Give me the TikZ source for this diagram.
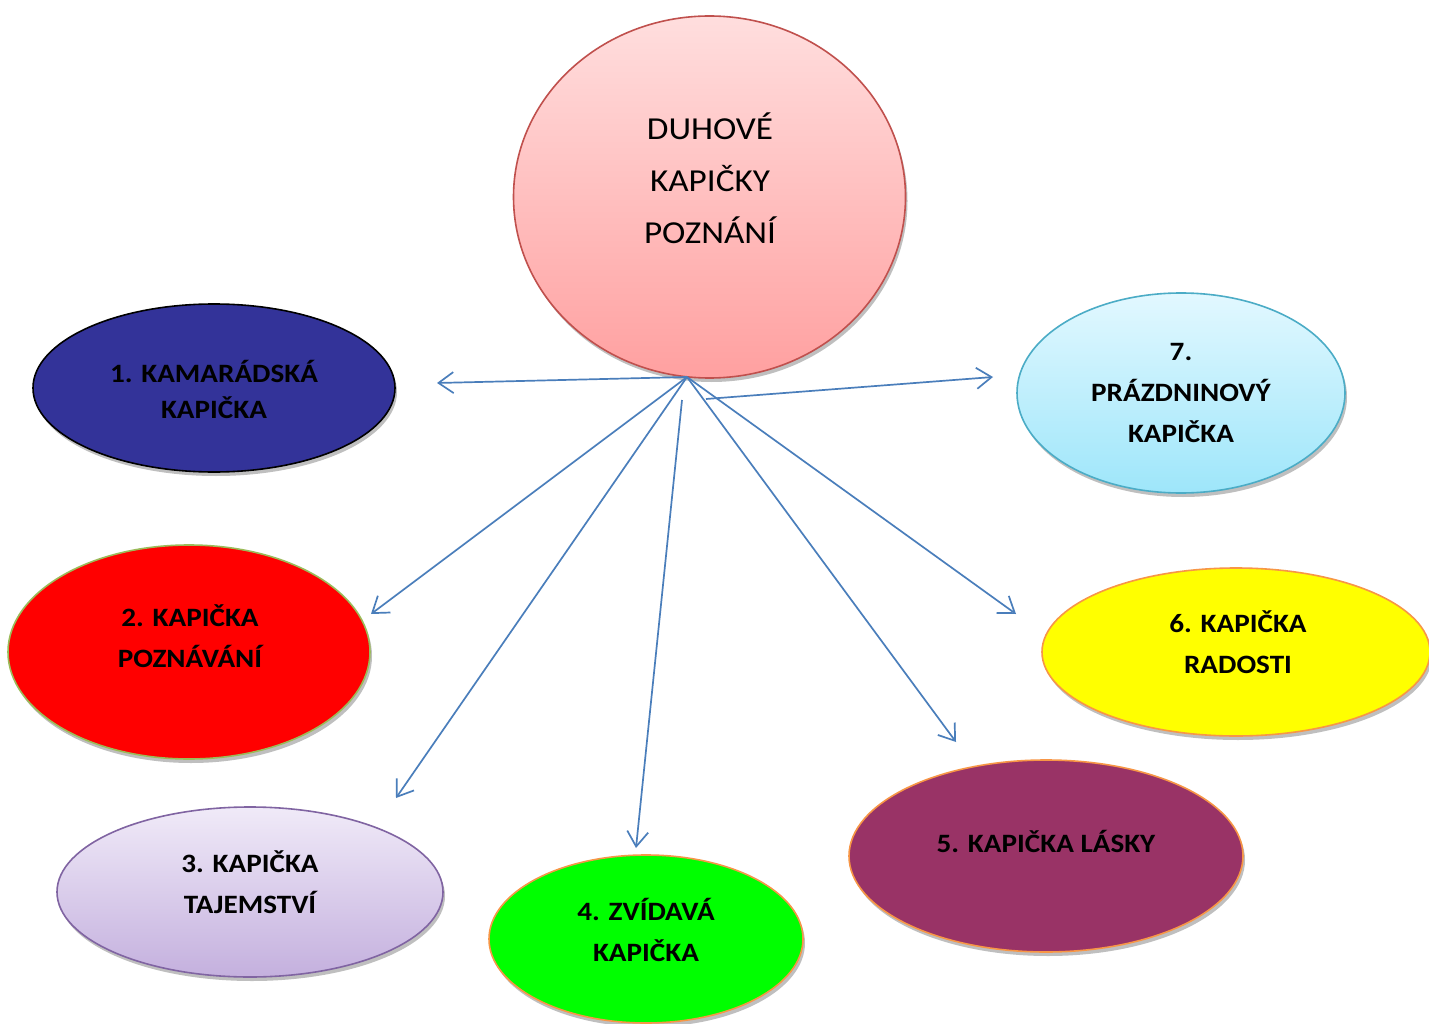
\documentclass[tikz,border=0pt]{standalone}
\usepackage{fontspec}
\setmainfont{Carlito}[FakeStretch=1.1]
\usetikzlibrary{shapes.geometric,shadows,arrows.meta}
\definecolor{arrowblue}{HTML}{4A7EBB}
\definecolor{ctop}{HTML}{FFDEDE}
\definecolor{cbot}{HTML}{FFA0A0}
\definecolor{cline}{HTML}{C0504D}
\definecolor{navy}{HTML}{333399}
\definecolor{olive}{HTML}{9BBB59}
\definecolor{lavtop}{HTML}{F0EAF8}
\definecolor{lavbot}{HTML}{C4B0DE}
\definecolor{lavline}{HTML}{8064A2}
\definecolor{orangeline}{HTML}{F79646}
\definecolor{plum}{HTML}{993366}
\definecolor{cyantop}{HTML}{E2F8FF}
\definecolor{cyanbot}{HTML}{9EE6FA}
\definecolor{cyanline}{HTML}{4BACC6}
\definecolor{pureyellow}{RGB}{255,255,0}
\definecolor{puregreen}{RGB}{0,255,0}
\begin{document}
\begin{tikzpicture}[x=1pt,y=-1pt,
  bub/.style={ellipse, draw, line width=1.6pt, inner sep=0pt,
    drop shadow={shadow xshift=2pt, shadow yshift=-4pt, fill=black!50}},
  lbl/.style={font=\bfseries\fontsize{26.5}{41}\selectfont, align=center, inner sep=0pt},
  arr/.style={draw=arrowblue, line width=1.7pt,
    -{Straight Barb[length=15pt,width=21pt,line width=1.7pt]}}]
\useasboundingbox (0,0) rectangle (1429,1024);
\fill[white] (0,0) rectangle (1429,1024);

% ellipses
\node[bub, draw=cline, top color=ctop, bottom color=cbot,
  minimum width=392pt, minimum height=362pt] (c) at (709.5,197) {};
\node[bub, draw=black, fill=navy, minimum width=362pt, minimum height=168pt] (n1) at (214,388) {};
\node[bub, draw=olive, fill=red, minimum width=362pt, minimum height=214pt] (n2) at (189,652) {};
\node[bub, draw=lavline, top color=lavtop, bottom color=lavbot,
  minimum width=386pt, minimum height=170pt] (n3) at (250,892) {};
\node[bub, draw=orangeline, fill=puregreen, minimum width=314pt, minimum height=168pt] (n4) at (646,939) {};
\node[bub, draw=orangeline, fill=plum, minimum width=394pt, minimum height=192pt] (n5) at (1046,856) {};
\node[bub, draw=orangeline, fill=pureyellow, minimum width=388pt, minimum height=168pt] (n6) at (1236,652) {};
\node[bub, draw=cyanline, top color=cyantop, bottom color=cyanbot,
  minimum width=328pt, minimum height=200pt] (n7) at (1181,393) {};

% labels
\node[align=center, inner sep=0pt, font=\fontsize{32}{52}\selectfont] (tc) at (710,178) {DUHOVÉ\\KAPIČKY\\POZNÁNÍ};
\node[lbl, font=\bfseries\fontsize{26.5}{36}\selectfont] (t1) at (214,389) {1. KAMARÁDSKÁ\\KAPIČKA};
\node[lbl] (t2) at (190,636) {2. KAPIČKA\\POZNÁVÁNÍ};
\node[lbl] (t3) at (250,882) {3. KAPIČKA\\TAJEMSTVÍ};
\node[lbl] (t4) at (646,930) {4. ZVÍDAVÁ\\KAPIČKA};
\node[lbl] (t5) at (1046,841) {5. KAPIČKA LÁSKY};
\node[lbl] (t6) at (1238,642) {6. KAPIČKA\\RADOSTI};
\node[lbl] (t7) at (1181,393) {7.\\PRÁZDNINOVÝ\\KAPIČKA};

% connector points
\coordinate (o) at (687,377);
\coordinate (o4) at (682,400);
\coordinate (o7) at (706,399);
\coordinate (e1) at (437,383);
\coordinate (e2) at (371,614);
\coordinate (e3) at (396,798);
\coordinate (e4) at (636,848);
\coordinate (e5) at (956,742);
\coordinate (e6) at (1016,614);
\coordinate (e7) at (993,377);

\draw[arr] (o) -- (e1);
\draw[arr] (o) -- (e2);
\draw[arr] (o) -- (e3);
\draw[arr] (o4) -- (e4);
\draw[arr] (o) -- (e5);
\draw[arr] (o) -- (e6);
\draw[arr] (o7) -- (e7);
\end{tikzpicture}
\end{document}
